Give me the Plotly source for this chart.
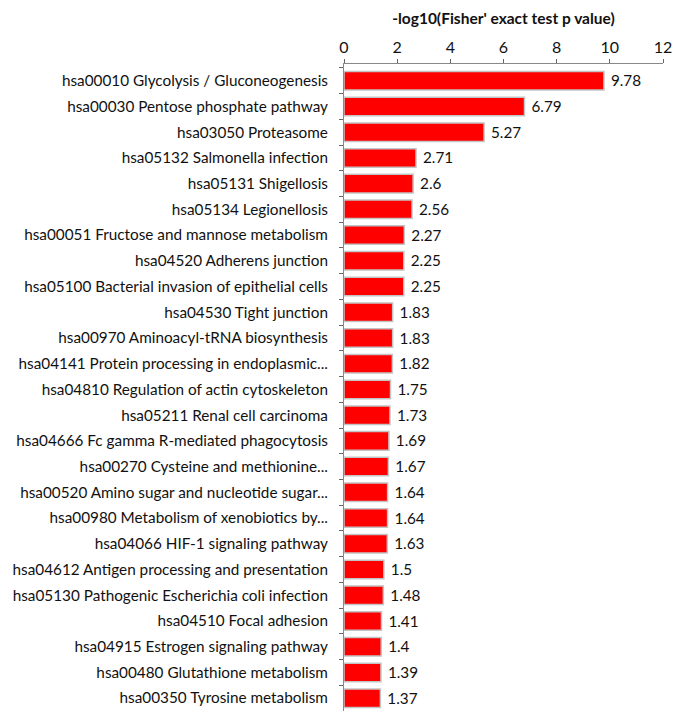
import plotly.graph_objects as go

categories = [
    "hsa00010 Glycolysis / Gluconeogenesis",
    "hsa00030 Pentose phosphate pathway",
    "hsa03050 Proteasome",
    "hsa05132 Salmonella infection",
    "hsa05131 Shigellosis",
    "hsa05134 Legionellosis",
    "hsa00051 Fructose and mannose metabolism",
    "hsa04520 Adherens junction",
    "hsa05100 Bacterial invasion of epithelial cells",
    "hsa04530 Tight junction",
    "hsa00970 Aminoacyl-tRNA biosynthesis",
    "hsa04141 Protein processing in endoplasmic...",
    "hsa04810 Regulation of actin cytoskeleton",
    "hsa05211 Renal cell carcinoma",
    "hsa04666 Fc gamma R-mediated phagocytosis",
    "hsa00270 Cysteine and methionine...",
    "hsa00520 Amino sugar and nucleotide sugar...",
    "hsa00980 Metabolism of xenobiotics by...",
    "hsa04066 HIF-1 signaling pathway",
    "hsa04612 Antigen processing and presentation",
    "hsa05130 Pathogenic Escherichia coli infection",
    "hsa04510 Focal adhesion",
    "hsa04915 Estrogen signaling pathway",
    "hsa00480 Glutathione metabolism",
    "hsa00350 Tyrosine metabolism",
]
values = [9.78, 6.79, 5.27, 2.71, 2.6, 2.56, 2.27, 2.25, 2.25, 1.83, 1.83, 1.82,
          1.75, 1.73, 1.69, 1.67, 1.64, 1.64, 1.63, 1.5, 1.48, 1.41, 1.4, 1.39, 1.37]
x_ticks = [0, 2, 4, 6, 8, 10, 12]
labels = ["\u00a0" + f"{v:g}" for v in values]

font_family = "Lato, Open Sans, sans-serif"

fig = go.Figure(go.Bar(
    x=values,
    y=categories,
    orientation="h",
    width=0.72,
    marker=dict(color="#FF0000", line=dict(color="#C4C4C4", width=1.5)),
    text=labels,
    textposition="outside",
    textfont=dict(size=16.5, color="#111111", family=font_family),
    cliponaxis=False,
))

fig.update_layout(
    width=673, height=711,
    margin=dict(l=344, r=10, t=64, b=0),
    plot_bgcolor="white", paper_bgcolor="white",
    showlegend=False,
    font=dict(family=font_family, color="#111111"),
    xaxis=dict(
        side="top",
        range=[0, 12],
        tickvals=x_ticks,
        ticktext=[str(t) for t in x_ticks],
        tickfont=dict(size=16),
        ticks="outside", ticklen=4, tickcolor="#666666",
        showline=True, linecolor="#888888", linewidth=1,
        showgrid=False, zeroline=False,
        title=dict(text="<b>-log10(Fisher' exact test p value)</b>",
                   font=dict(size=15.5), standoff=8),
        automargin=False,
    ),
    yaxis=dict(
        range=[len(categories) - 0.5, -0.65],
        categoryorder="array", categoryarray=categories,
        tickfont=dict(size=15.3),
        ticks="outside", ticklen=4, tickcolor="#666666",
        tickson="boundaries",
        showline=True, linecolor="#888888", linewidth=1,
        showgrid=False, zeroline=False,
        ticklabelstandoff=12,
        automargin=False,
    ),
)

fig.write_html("out.html", config={"displayModeBar": False},
               post_script="document.body.style.margin='0';")
